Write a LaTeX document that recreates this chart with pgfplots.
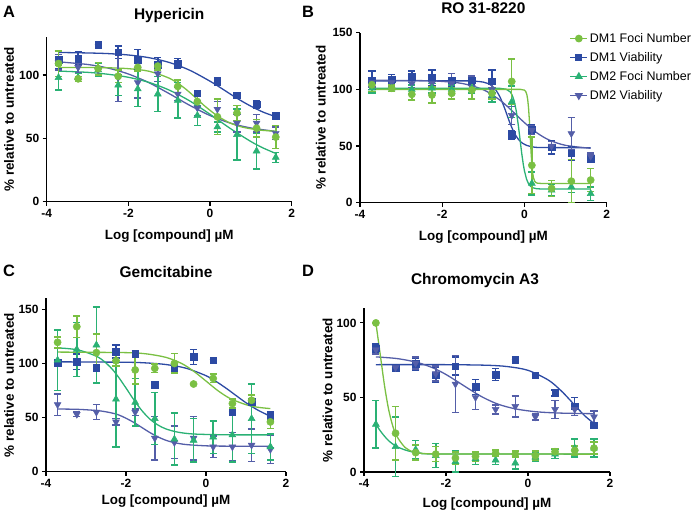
\documentclass[border=0pt]{standalone}
\usepackage{fontspec}
\setmainfont{Liberation Sans}
\usepackage{pgfplots}
\pgfplotsset{compat=1.18}
\definecolor{cg}{RGB}{122,192,67}
\definecolor{cb}{RGB}{44,74,163}
\definecolor{ct}{RGB}{42,177,116}
\definecolor{cp}{RGB}{84,94,168}
\pgfplotsset{
  panel/.style={
    scale only axis, axis lines=left, axis line style={-, line width=1.1bp, black},
    tick align=outside, major tick length=4bp, tick style={black, line width=1.1bp},
    xmin=-4, xmax=2, ymin=0, xtick={-4,-2,0,2},
    /pgf/number format/assume math mode=true,
    tick label style={font=\fontsize{12}{14}\selectfont\bfseries},
    label style={font=\fontsize{13.5}{15}\selectfont\bfseries},
    title style={font=\fontsize{15.5}{17}\selectfont\bfseries},
    xlabel={Log [compound] µM},
    ylabel={\% relative to untreated},
    clip=false,
  },
  pts/.style={#1, only marks, forget plot, mark size=3.6bp,
    mark options={fill=#1, draw=#1, line width=0.5bp},
    error bars/y dir=both, error bars/y explicit,
    error bars/error bar style={#1, line width=1.5bp},
    error bars/error mark options={#1, rotate=90, mark size=3.6bp, line width=1.5bp}},
  cur/.style={#1, line width=1.3bp, no marks, forget plot, smooth},
  curs/.style={#1, line width=1.3bp, no marks, forget plot},
}
\begin{document}
\begin{tikzpicture}
\path[use as bounding box] (0,0) rectangle (700bp,516bp);
% ---------------- A ----------------
\begin{axis}[panel, at={(46.7bp,314.3bp)}, anchor=south west, width=245bp, height=164.7bp,
  ymax=130, ytick={0,50,100}, title={Hypericin},
  title style={at={(0.5,1)}, anchor=base, yshift=11.3bp},
  xlabel style={at={(0.5,0)}, anchor=base, yshift=-37.6bp},
  ylabel style={at={(-0.154,0.5)}, anchor=center}]
\addplot[cur=cb] coordinates {(-3.71,117.8)(-3,117.4)(-2.5,116.9)(-2,115.8)(-1.5,113.7)(-1,109.9)(-0.5,103.8)(0,95.1)(0.25,90.1)(0.5,84.9)(0.75,79.9)(1,75.4)(1.3,70.7)(1.61,67.1)};
\addplot[cur=cp] coordinates {(-3.71,110.4)(-3,108.3)(-2.5,105.5)(-2,100.8)(-1.5,94)(-1,85.3)(-0.5,76.1)(0,68)(0.5,62)(1,58.2)(1.61,55.5)};
\addplot[cur=ct] coordinates {(-3.71,103.1)(-3,102.1)(-2.5,100.6)(-2,98.2)(-1.5,94.2)(-1,88.1)(-0.5,79.6)(0,69)(0.5,57.7)(1,47.5)(1.3,42.4)(1.61,38.1)};
\addplot[cur=cg] coordinates {(-3.71,106)(-3,105.9)(-2.5,105.7)(-2,105)(-1.5,103)(-1,97.5)(-0.7,91.5)(-0.5,86.3)(-0.3,80.5)(-0.1,74.7)(0.2,67.3)(0.5,62)(0.8,58.8)(1.2,56.6)(1.61,55.6)};
\addplot[pts=cb, mark=square*, mark size=3.3bp] coordinates {(-3.71,112)+-(0,7)(-3.23,113)+-(0,5)(-2.74,124)+-(0,0)(-2.25,118)+-(0,5)(-1.77,112)+-(0,8)(-1.28,108)+-(0,6)(-0.79,109)+-(0,4)(-0.31,85.5)+-(0,0)(0.18,95)+-(0,3)(0.66,84)+-(0,0)(1.14,77)+-(0,3)(1.61,68)+-(0,0)};
\addplot[pts=cp, mark=triangle*, mark size=4bp, mark options={fill=cp, draw=cp, rotate=180}] coordinates {(-3.71,110)+-(0,6)(-3.23,106)+-(0,4)(-2.74,104)+-(0,5)(-2.25,98)+-(0,19)(-1.77,94)+-(0,12)(-1.28,101)+-(0,6)(-0.79,85)+-(0,5)(-0.31,74)+-(0,6)(0.18,73)+-(0,6)(0.66,62)+-(0,7)(1.14,62)+-(0,7)(1.61,54)+-(0,5)};
\addplot[pts=ct, mark=triangle*, mark size=4bp] coordinates {(-3.71,98)+-(0,10)(-3.23,98)+-(0,3)(-2.74,104)+-(0,5)(-2.25,92)+-(0,8)(-1.77,89)+-(0,14)(-1.28,85)+-(0,14)(-0.79,80)+-(0,14)(-0.31,68)+-(0,8)(0.18,59)+-(0,4)(0.66,53)+-(0,20)(1.14,40)+-(0,14)(1.61,35)+-(0,4)};
\addplot[pts=cg, mark=*] coordinates {(-3.71,109)+-(0,10)(-3.23,97)+-(0,2)(-2.74,105)+-(0,5)(-2.25,99)+-(0,5)(-1.77,106)+-(0,3)(-1.28,107)+-(0,3)(-0.79,91)+-(0,5)(-0.31,79)+-(0,4)(0.18,67)+-(0,14)(0.66,70)+-(0,6)(1.14,58)+-(0,7)(1.61,51)+-(0,9)};
\end{axis}
% ---------------- B ----------------
\begin{axis}[panel, at={(360bp,313.3bp)}, anchor=south west, width=246.7bp, height=170bp,
  ymax=150, ytick={0,50,100,150}, title={RO 31-8220},
  title style={at={(0.5,1)}, anchor=base, yshift=13.4bp},
  xlabel style={at={(0.5,0)}, anchor=base, yshift=-38bp},
  ylabel style={at={(-0.159,0.5)}, anchor=center},
  legend style={at={(0.837,1.021)}, anchor=north west, draw=none, fill=none,
    font=\fontsize{12.5}{14}\selectfont, row sep=4.5bp},
  legend cell align=left]
\addlegendimage{cg, line width=1.3bp, mark=*, mark size=3.2bp, mark options={fill=cg}}
\addlegendentry{DM1 Foci Number}
\addlegendimage{cb, line width=1.3bp, mark=square*, mark size=3bp, mark options={fill=cb}}
\addlegendentry{DM1 Viability}
\addlegendimage{ct, line width=1.3bp, mark=triangle*, mark size=3.5bp, mark options={fill=ct}}
\addlegendentry{DM2 Foci Number}
\addlegendimage{cp, line width=1.3bp, mark=triangle*, mark size=3.5bp, mark options={fill=cp, rotate=180}}
\addlegendentry{DM2 Viability}
\addplot[cur=cb] coordinates {(-3.71,107.5)(-1.5,107.5)(-1.2,107.2)(-1,106.4)(-0.9,105.3)(-0.8,103.3)(-0.7,99.6)(-0.6,93.6)(-0.5,85)(-0.43,78)(-0.35,70)(-0.25,61.7)(-0.15,56)(-0.05,52.5)(0.05,50.6)(0.2,49.3)(0.4,48.7)(1.61,48.5)};
\addplot[cur=cp] coordinates {(-3.71,108)(-2.5,107.7)(-2,107)(-1.5,105.1)(-1,99.7)(-0.6,90.6)(-0.3,81)(0,70.6)(0.3,61.7)(0.6,55.3)(1,50.6)(1.61,48)};
\addplot[curs=ct] coordinates {(-3.71,101)(-0.6,100.9)(-0.45,100.2)(-0.35,97.9)(-0.3,95)(-0.25,89.8)(-0.2,81.1)(-0.15,68.5)(-0.11,56.5)(-0.07,44.5)(-0.03,34.1)(0,28)(0.05,20.8)(0.1,16.6)(0.15,14.4)(0.2,13.2)(0.3,12.3)(0.45,12.05)(1.61,12)};
\addplot[curs=cg] coordinates {(-3.71,100)(-0.1,100)(0,99.3)(0.03,98.2)(0.06,95.1)(0.08,90.7)(0.1,83.3)(0.12,72.3)(0.14,58.5)(0.16,44.7)(0.18,33.7)(0.2,26.3)(0.22,21.9)(0.25,18.8)(0.28,17.7)(0.32,17.2)(0.4,17)(1.61,17)};
\addplot[pts=cb, mark=square*, mark size=3.3bp] coordinates {(-3.71,108)+-(0,8)(-3.23,109)+-(0,4)(-2.74,111)+-(0,5)(-2.25,110)+-(0,7)(-1.77,108)+-(0,6)(-1.28,108)+-(0,4)(-0.79,107)+-(0,10)(-0.31,59.7)+-(0,4)(0.18,64.7)+-(0,4)(0.66,48.9)+-(0,6)(1.14,43.6)+-(0,6)(1.61,39)+-(0,3)};
\addplot[pts=cp, mark=triangle*, mark size=4bp, mark options={fill=cp, draw=cp, rotate=180}] coordinates {(-3.71,106)+-(0,4)(-3.23,106)+-(0,4)(-2.74,105)+-(0,4)(-2.25,105)+-(0,8)(-1.77,105)+-(0,9)(-1.28,102)+-(0,10)(-0.79,100)+-(0,7)(-0.31,77)+-(0,8)(0.18,64)+-(0,4)(0.66,50)+-(0,4)(1.14,61)+-(0,14)(1.61,41)+-(0,3)};
\addplot[pts=ct, mark=triangle*, mark size=4bp] coordinates {(-3.71,101)+-(0,4)(-3.23,101)+-(0,3)(-2.74,100)+-(0,4)(-2.25,101)+-(0,4)(-1.77,100)+-(0,4)(-1.28,101)+-(0,4)(-0.79,95)+-(0,6)(-0.31,89)+-(0,14)(0.18,17)+-(0,10)(0.66,11)+-(0,5)(1.14,14)+-(0,5)(1.61,8)+-(0,6)};
\addplot[pts=cg, mark=*] coordinates {(-3.71,104)+-(0,6)(-3.23,101)+-(0,3)(-2.74,95.6)+-(0,5)(-2.25,95)+-(0,7)(-1.77,96.5)+-(0,5)(-1.28,99.4)+-(0,8)(-0.79,96.5)+-(0,5)(-0.31,107)+-(0,20)(0.18,33)+-(0,25)(0.66,12.6)+-(0,7)(1.14,19)+-(0,19)(1.61,20)+-(0,10)};
\end{axis}
% ---------------- C ----------------
\begin{axis}[panel, at={(46bp,44.3bp)}, anchor=south west, width=240bp, height=173.2bp,
  ymax=160, ytick={0,50,100,150}, title={Gemcitabine},
  title style={at={(0.5,1)}, anchor=base, yshift=15bp},
  xlabel style={at={(0.5,0)}, anchor=base, yshift=-32.3bp},
  ylabel style={at={(-0.154,0.5)}, anchor=center}]
\addplot[cur=cb] coordinates {(-3.71,101.5)(-2,101.1)(-1.5,100.5)(-1,99)(-0.5,95.6)(0,88.7)(0.25,83.4)(0.5,77.2)(0.75,70.4)(1,63.7)(1.3,56.8)(1.61,51.2)};
\addplot[cur=cp] coordinates {(-3.71,57.9)(-3.2,57.6)(-2.7,56.4)(-2.4,54.6)(-2.2,52.7)(-2,49.4)(-1.8,45.4)(-1.6,40.75)(-1.4,36.1)(-1.2,32.1)(-1,29)(-0.8,26.9)(-0.5,25.1)(0,23.9)(0.5,23.6)(1.61,23.5)};
\addplot[cur=ct] coordinates {(-3.71,114.4)(-3.2,112.5)(-2.7,105.9)(-2.4,96.9)(-2.2,88)(-2,77.3)(-1.8,66.2)(-1.6,56.3)(-1.4,48.5)(-1.2,43.1)(-1,39.5)(-0.7,36.5)(-0.3,34.8)(0.5,34.1)(1.61,34)};
\addplot[cur=cg] coordinates {(-3.71,110.5)(-2,110)(-1.5,108.9)(-1,105.6)(-0.6,99.8)(-0.3,92.6)(0,83.75)(0.3,74.8)(0.6,67.7)(1,61.9)(1.3,59.5)(1.61,58.3)};
\addplot[pts=cb, mark=square*, mark size=3.3bp] coordinates {(-3.71,100.7)+-(0,2)(-3.23,101.6)+-(0,7)(-2.74,96)+-(0,2)(-2.25,111)+-(0,6)(-1.77,109)+-(0,3)(-1.28,80.6)+-(0,0)(-0.79,95.5)+-(0,3)(-0.31,106)+-(0,7)(0.18,103)+-(0,0)(0.66,55)+-(0,0)(1.14,64.6)+-(0,3)(1.61,51)+-(0,4)};
\addplot[pts=cp, mark=triangle*, mark size=4bp, mark options={fill=cp, draw=cp, rotate=180}] coordinates {(-3.71,62)+-(0,10)(-3.23,53)+-(0,2)(-2.74,55)+-(0,7)(-2.25,46)+-(0,3)(-1.77,55)+-(0,3)(-1.28,31)+-(0,20)(-0.79,27)+-(0,15)(-0.31,31)+-(0,20)(0.18,23)+-(0,10)(0.66,23)+-(0,13)(1.14,24.6)+-(0,15)(1.61,20.6)+-(0,13)};
\addplot[pts=ct, mark=triangle*, mark size=4bp] coordinates {(-3.71,103)+-(0,28)(-3.23,113)+-(0,25)(-2.74,117)+-(0,35)(-2.25,67)+-(0,44)(-1.77,64)+-(0,22)(-1.28,49)+-(0,24)(-0.79,30)+-(0,24)(-0.31,29)+-(0,20)(0.18,32)+-(0,15)(0.66,34)+-(0,25)(1.14,49)+-(0,32)(1.61,23)+-(0,12)};
\addplot[pts=cg, mark=*] coordinates {(-3.71,119.5)+-(0,5)(-3.23,134)+-(0,10)(-2.74,110)+-(0,17)(-2.25,102.5)+-(0,5)(-1.77,94)+-(0,13)(-1.28,95.5)+-(0,4)(-0.79,100)+-(0,9)(-0.31,81)+-(0,0)(0.18,86.2)+-(0,4)(0.66,63)+-(0,4)(1.14,66)+-(0,5)(1.61,46)+-(0,6)};
\end{axis}
% ---------------- D ----------------
\begin{axis}[panel, at={(364bp,44bp)}, anchor=south west, width=246bp, height=164bp,
  ymax=110, ytick={0,50,100}, title={Chromomycin A3},
  title style={at={(0.5,1)}, anchor=base, yshift=18bp, xshift=-12bp},
  xlabel style={at={(0.5,0)}, anchor=base, yshift=-35.3bp},
  ylabel style={at={(-0.148,0.5)}, anchor=center}]
\addplot[cur=cb] coordinates {(-3.71,72)(-2,72)(-1,71.6)(-0.5,70.7)(0,68.2)(0.5,61.6)(0.8,54.7)(1,49)(1.2,43)(1.4,37.3)(1.61,32.5)};
\addplot[cur=cp] coordinates {(-3.71,77.2)(-3.2,76.1)(-2.7,73.5)(-2.3,69.6)(-2.0,65.4)(-1.8,62)(-1.6,58.5)(-1.4,55)(-1.2,51.6)(-1.0,48.7)(-0.7,45.2)(-0.3,42.3)(0.2,40.4)(0.8,39.5)(1.61,39.1)};
\addplot[cur=ct] coordinates {(-3.71,32)(-3.6,27.5)(-3.5,24)(-3.4,21)(-3.3,18.8)(-3.2,17)(-3.0,14.8)(-2.8,13.3)(-2.6,12.6)(-2.2,12.1)(1.61,12)};
\addplot[cur=cg] coordinates {(-3.71,100)(-3.6,78)(-3.5,58)(-3.4,42)(-3.3,31)(-3.2,24)(-3.0,16.5)(-2.8,13.5)(-2.6,12.5)(-2.0,12.1)(1.61,12)};
\addplot[pts=cb, mark=square*, mark size=3.3bp] coordinates {(-3.71,83)+-(0,3)(-3.23,70)+-(0,0)(-2.74,72.5)+-(0,4)(-2.25,65)+-(0,5)(-1.77,71)+-(0,6)(-1.28,57)+-(0,5)(-0.79,65.3)+-(0,4)(-0.31,75.4)+-(0,0)(0.18,65)+-(0,0)(0.66,53)+-(0,2)(1.14,44)+-(0,6)(1.61,31.3)+-(0,2)};
\addplot[pts=cp, mark=triangle*, mark size=4bp, mark options={fill=cp, draw=cp, rotate=180}] coordinates {(-3.71,82)+-(0,3)(-3.23,70)+-(0,2)(-2.74,73)+-(0,4)(-2.25,66)+-(0,5)(-1.77,59)+-(0,19)(-1.28,50)+-(0,8)(-0.79,42)+-(0,3)(-0.31,44)+-(0,7)(0.18,37)+-(0,2)(0.66,42)+-(0,6)(1.14,42)+-(0,4)(1.61,37)+-(0,4)};
\addplot[pts=ct, mark=triangle*, mark size=4bp] coordinates {(-3.71,32)+-(0,16)(-3.23,17)+-(0,20)(-2.74,15)+-(0,6)(-2.25,11)+-(0,8)(-1.77,7)+-(0,7)(-1.28,9)+-(0,4)(-0.79,8)+-(0,3)(-0.31,6)+-(0,4)(0.18,10)+-(0,3)(0.66,12)+-(0,3)(1.14,16)+-(0,6)(1.61,16)+-(0,6)};
\addplot[pts=cg, mark=*] coordinates {(-3.71,100)+-(0,0)(-3.23,26)+-(0,18)(-2.74,13)+-(0,5)(-2.25,12)+-(0,5)(-1.77,9.4)+-(0,4)(-1.28,10.5)+-(0,3)(-0.79,12.6)+-(0,2)(-0.31,12)+-(0,2)(0.18,11)+-(0,3)(0.66,13.6)+-(0,2)(1.14,14.5)+-(0,3)(1.61,16)+-(0,4)};
\end{axis}
\node[anchor=base west, inner sep=0, font=\fontsize{16.5}{17}\selectfont\bfseries] at (3bp,498bp) {A};
\node[anchor=base west, inner sep=0, font=\fontsize{16.5}{17}\selectfont\bfseries] at (302bp,498bp) {B};
\node[anchor=base west, inner sep=0, font=\fontsize{16.5}{17}\selectfont\bfseries] at (3bp,239.7bp) {C};
\node[anchor=base west, inner sep=0, font=\fontsize{16.5}{17}\selectfont\bfseries] at (302bp,239.7bp) {D};
\end{tikzpicture}
\end{document}
